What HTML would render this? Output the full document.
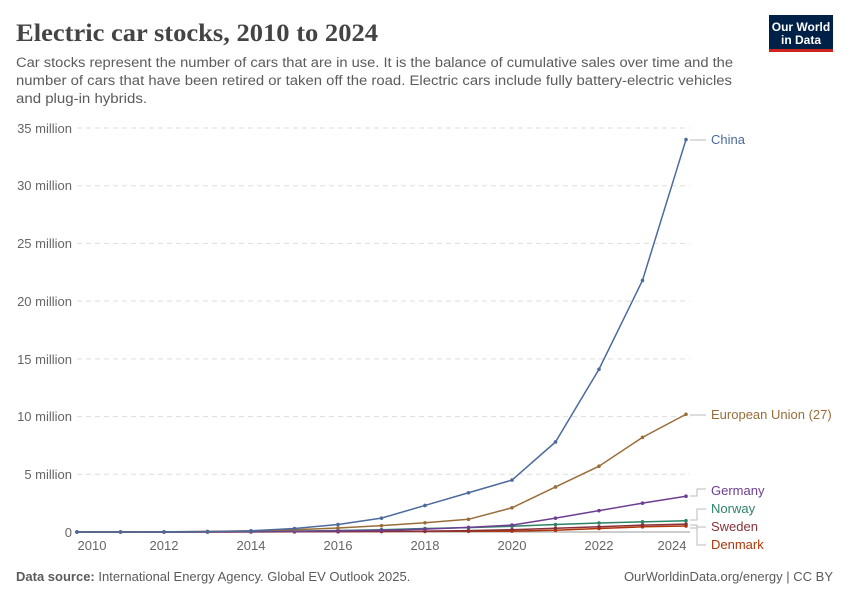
<!DOCTYPE html>
<html><head><meta charset="utf-8"><style>
body{margin:0;background:#fff;font-family:"Liberation Sans",sans-serif;}
</style></head><body>
<svg width="850" height="600" xmlns="http://www.w3.org/2000/svg" font-family="Liberation Sans, sans-serif">
<rect width="850" height="600" fill="#fff"/>
<text x="16" y="41" font-family="Liberation Serif, serif" font-size="25" font-weight="bold" fill="#444" textLength="362" lengthAdjust="spacingAndGlyphs">Electric car stocks, 2010 to 2024</text>
<text font-size="14.2" fill="#5b5b5b"><tspan x="16" y="67" textLength="717" lengthAdjust="spacingAndGlyphs">Car stocks represent the number of cars that are in use. It is the balance of cumulative sales over time and the</tspan><tspan x="16" y="85" textLength="716" lengthAdjust="spacingAndGlyphs">number of cars that have been retired or taken off the road. Electric cars include fully battery-electric vehicles</tspan><tspan x="16" y="103" textLength="131" lengthAdjust="spacingAndGlyphs">and plug-in hybrids.</tspan></text>
<rect x="769" y="15" width="64" height="35" fill="#002147"/>
<rect x="769" y="49" width="64" height="3" fill="#ce261e"/>
<text x="801" y="31" font-size="12" font-weight="bold" fill="#fff" text-anchor="middle">Our World</text>
<text x="801" y="44" font-size="12" font-weight="bold" fill="#fff" text-anchor="middle">in Data</text>
<g stroke="#ddd" stroke-dasharray="5,4" stroke-width="1">
<line x1="77" x2="690" y1="128" y2="128"/><line x1="77" x2="690" y1="185.7" y2="185.7"/><line x1="77" x2="690" y1="243.4" y2="243.4"/><line x1="77" x2="690" y1="301.1" y2="301.1"/><line x1="77" x2="690" y1="358.9" y2="358.9"/><line x1="77" x2="690" y1="416.6" y2="416.6"/><line x1="77" x2="690" y1="474.3" y2="474.3"/>
</g>
<line x1="77" x2="690" y1="532" y2="532" stroke="#999"/>
<g font-size="13" fill="#666" text-anchor="end">
<text x="72" y="133">35 million</text><text x="72" y="190">30 million</text><text x="72" y="248">25 million</text><text x="72" y="306">20 million</text><text x="72" y="364">15 million</text><text x="72" y="421">10 million</text><text x="72" y="479">5 million</text><text x="72" y="537">0</text>
</g>
<g font-size="13" fill="#666" text-anchor="middle">
<text x="92" y="550">2010</text><text x="164" y="550">2012</text><text x="251" y="550">2014</text><text x="338" y="550">2016</text><text x="425" y="550">2018</text><text x="512" y="550">2020</text><text x="599" y="550">2022</text><text x="672" y="550">2024</text>
</g>
<g id="s" fill="none" stroke-width="1.5"></g>
<g stroke="#bbb" fill="none">
<path d="M690 140H706"/><path d="M690 415H706"/>
<path d="M690 496H697V489H706"/><path d="M690 520H697V509H706"/><path d="M690 525H697V527H706"/><path d="M690 528H697V545H706"/>
</g>
<g font-size="13">
<text x="711" y="144" fill="#4c6a9c">China</text>
<text x="711" y="419" fill="#996d39">European Union (27)</text>
<text x="711" y="495" fill="#6d3e91">Germany</text>
<text x="711" y="513" fill="#2c8465">Norway</text>
<text x="711" y="531" fill="#883039">Sweden</text>
<text x="711" y="549" fill="#b13507">Denmark</text>
</g>
<text x="16" y="581" font-size="13" fill="#5b5b5b"><tspan font-weight="bold">Data source:</tspan> International Energy Agency. Global EV Outlook 2025.</text>
<text x="833" y="581" font-size="13" fill="#5b5b5b" text-anchor="end">OurWorldinData.org/energy | CC BY</text>
</svg>
<script>
const g=document.getElementById('s');
const X=y=>77+(y-2010)*43.5, Y=v=>532-v*11.543;
const S=[
["#b13507",[0,0,0,0,0.01,0.02,0.03,0.04,0.05,0.06,0.08,0.15,0.3,0.45,0.52]],
["#883039",[0,0,0,0,0.01,0.02,0.03,0.05,0.08,0.12,0.2,0.33,0.45,0.6,0.68]],
["#2c8465",[0,0,0,0.02,0.04,0.08,0.13,0.2,0.3,0.38,0.5,0.65,0.78,0.88,0.98]],
["#6d3e91",[0,0,0,0.01,0.03,0.05,0.1,0.15,0.25,0.4,0.6,1.2,1.85,2.5,3.1]],
["#996d39",[0,0,0.01,0.05,0.1,0.2,0.35,0.55,0.8,1.1,2.1,3.9,5.7,8.2,10.2]],
["#4c6a9c",[0,0.01,0.02,0.03,0.1,0.3,0.65,1.2,2.3,3.4,4.5,7.8,14.1,21.8,34]]];
let h='';
for(const [c,d] of S){h+=`<polyline stroke="${c}" points="${d.map((v,i)=>X(2010+i)+','+Y(v)).join(' ')}"/>`;
for(let i=0;i<d.length;i++)h+=`<circle cx="${X(2010+i)}" cy="${Y(d[i])}" r="1.8" fill="${c}" stroke="none"/>`;}
g.innerHTML=h;
</script>
</body></html>
